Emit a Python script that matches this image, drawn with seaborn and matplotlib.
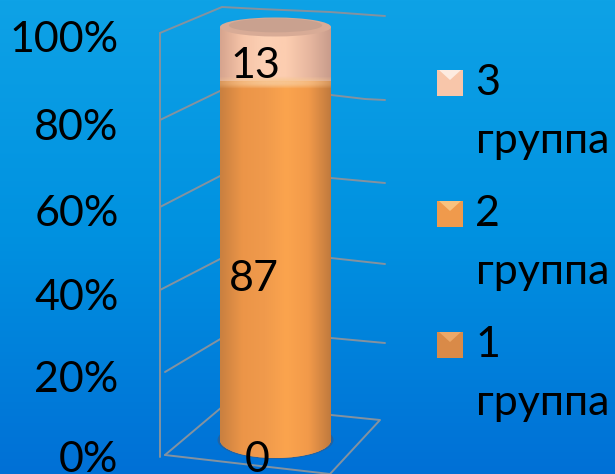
import numpy as np
import pandas as pd
import matplotlib.pyplot as plt
from matplotlib.colors import LinearSegmentedColormap, to_rgb
from matplotlib.patches import Ellipse, Rectangle, Polygon
import seaborn as sns

# Data
groups = ['1 группа', '2 группа', '3 группа']
values = [0, 87, 13]
tick_labels = ['0%', '20%', '40%', '60%', '80%', '100%']
legend_first = ['3', '2', '1']
legend_second = ['группа', 'группа', 'группа']

sns.set_theme(style='white')
plt.rcParams['font.family'] = ['Lato', 'DejaVu Sans']
FS = 31

W, H = 615, 474
fig = plt.figure(figsize=(W / 100, H / 100), dpi=100)

# background axes works in pixels, for the gradient and the fake 3D frame
bg = fig.add_axes([0, 0, 1, 1])
bg_cmap = LinearSegmentedColormap.from_list('bg', ['#0ea2e6', '#0091e0', '#0070d6'])
bg.imshow(np.linspace(0, 1, 256).reshape(-1, 1), cmap=bg_cmap, aspect='auto', extent=[0, W, H, 0])
bg.set_xlim(0, W)
bg.set_ylim(H, 0)
bg.axis('off')

frame = [
    [(160, 33), (222, 7), (260, 9), (330, 12), (385, 16)],
    [(160, 33), (160, 457)],
    [(160, 120), (222, 90)],
    [(160, 207), (222, 175)],
    [(160, 290), (222, 258)],
    [(165, 372), (222, 338)],
    [(331, 95), (365, 99), (385, 100)],
    [(331, 178), (385, 183)],
    [(331, 258), (385, 264)],
    [(331, 338), (385, 343)],
    [(165, 455), (222, 407)],
    [(331, 415), (380, 420), (330, 474)],
    [(165, 455), (330, 474)],
]
for seg in frame:
    xs, ys = zip(*seg)
    bg.plot(xs, ys, color='#84929f', lw=1.4, zorder=2)

# base shadow
bg.add_patch(Ellipse((275.5, 440), 116, 38, facecolor='#2a5f96', edgecolor='none', alpha=0.8, zorder=3))

# main axes: value 0 is at pixel 440, value 100 at pixel 27
PX = 4.13
AX_LEFT = 120
y0_px, bar_cx, bar_w = 440, 275.5, 111
ax = fig.add_axes([AX_LEFT / W, 0, (W - AX_LEFT) / W, 1])
ax.patch.set_alpha(0)

df = pd.DataFrame({'cat': ['a'] * 3, 'group': groups, 'value': values})
df['bottom'] = df['value'].cumsum().shift(fill_value=0)
for _, row in df.iterrows():
    sns.barplot(x=[row['cat']], y=[row['value']], bottom=row['bottom'], width=1,
                color='#f0994a', linewidth=0, edgecolor='none', ax=ax, zorder=4)

ylim = ((y0_px - H) / PX, y0_px / PX)
xlim = ((AX_LEFT - bar_cx) / bar_w, (W - bar_cx) / bar_w)

orange = LinearSegmentedColormap.from_list('o', ['#c98040', '#ec9548', '#f09a4c', '#fba44e', '#f29a4a', '#c07a3e'])
peach = LinearSegmentedColormap.from_list('p', ['#d6a48e', '#f6c4a8', '#fcd0b4', '#fccdb0', '#e8b8a0', '#c89c8c'])
grad = np.linspace(0, 1, 128).reshape(1, -1)


def shade(patch, cmap, z):
    im = ax.imshow(grad, cmap=cmap, aspect='auto', extent=[-0.5, 0.5, ylim[0], ylim[1]],
                   zorder=z, interpolation='bilinear')
    im.set_clip_path(patch)


bars = [p for p in ax.patches if p.get_height() > 0]
orange_bar, peach_bar = bars[0], bars[1]
top_v = df['value'].sum()
mid_v = df['bottom'].iloc[2]

base = Ellipse((0, 0), 1, 36 / PX, edgecolor='none', facecolor='#f0994a', zorder=3.5)
ax.add_patch(base)
shade(base, orange, 3.6)
shade(orange_bar, orange, 4.1)
shade(peach_bar, peach, 4.1)

# soft band where the peach part sits on the orange part, fading towards the edges
band = np.zeros((16, 64, 4))
band[..., :3] = to_rgb('#f8c794')
band[..., 3] = np.sin(np.linspace(0, np.pi, 16))[:, None] * (0.35 + 0.6 * np.sin(np.linspace(0, np.pi, 64)))[None, :]
ax.imshow(band, aspect='auto', extent=[-0.5, 0.5, mid_v - 2.0, mid_v + 1.0], zorder=4.3, interpolation='bilinear')

rim = Ellipse((0, top_v), 1, 19 / PX, edgecolor='none', facecolor='#d8ab96', zorder=4.8)
ax.add_patch(rim)
cap = Ellipse((0, top_v + 0.4), 0.84, 14 / PX, edgecolor='none', facecolor='#c9a18f', zorder=4.9)
ax.add_patch(cap)
ax.set_xlim(*xlim)
ax.set_ylim(*ylim)

# tick labels sit on the front of the 3D box, not at the true value height
tick_px = [457, 377, 294, 211, 124, 36]
ax.set_yticks([(y0_px - p) / PX for p in tick_px])
ax.set_yticklabels(tick_labels, fontsize=FS, color='black')
ax.tick_params(axis='y', length=0, pad=1)
ax.tick_params(axis='x', length=0, labelbottom=False)
ax.set_xlabel('')
ax.set_ylabel('')
sns.despine(ax=ax, left=True, bottom=True)

# data labels
for v, bottom, px, py in zip(values, df['bottom'], [257, 254, 255], [460, 279, 66]):
    mid = bottom + v / 2
    ax.annotate(str(v), (0, mid), xytext=((px - bar_cx) * 0.72, ((y0_px - py) - mid * PX) * 0.72),
                textcoords='offset points', ha='center', va='center', fontsize=FS, color='black', zorder=6)

# legend
sq_colors = ['#f8c6aa', '#f09a4c', '#d98a48']
tip_colors = ['#fdebe0', '#f9c27e', '#eca868']
for i, (a, b) in enumerate(zip(legend_first, legend_second)):
    y = 83 + i * 131
    bg.add_patch(Rectangle((437, y - 13), 26, 26, facecolor=sq_colors[i], edgecolor='none', zorder=3))
    bg.add_patch(Polygon([(439, y - 13), (461, y - 13), (450, y - 3)], facecolor=tip_colors[i], edgecolor='none', zorder=3))
    bg.text(475, y, a, fontsize=FS, va='center', ha='left', color='black')
    bg.text(476, y + 58, b, fontsize=FS, va='center', ha='left', color='black')

fig.savefig('out.png', dpi=100)
